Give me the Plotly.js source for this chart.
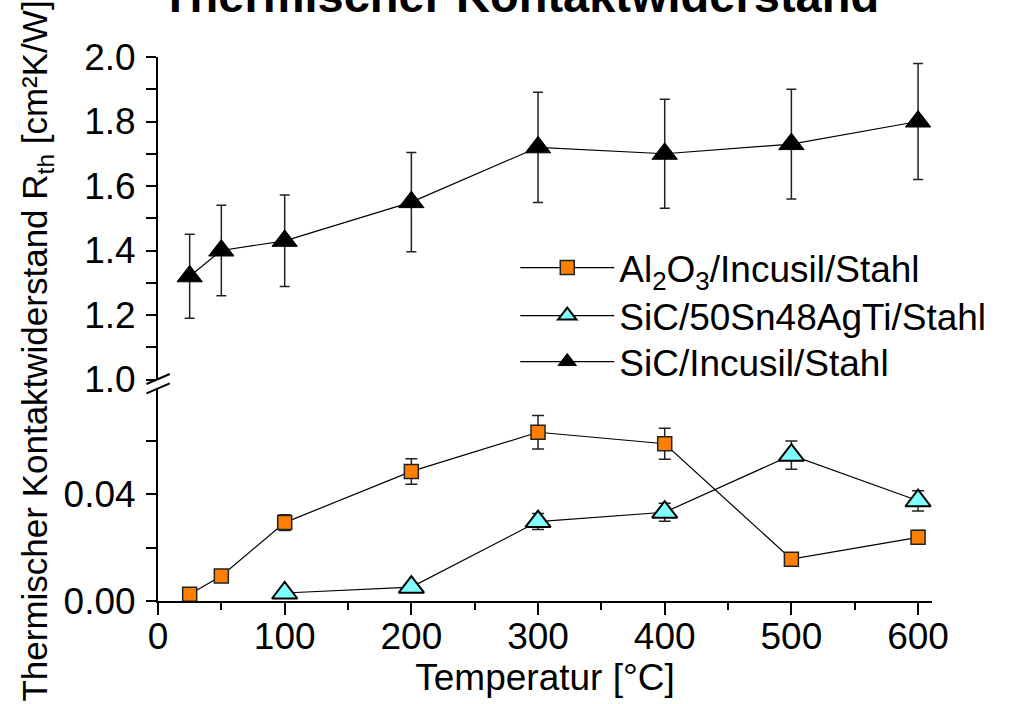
<!DOCTYPE html>
<html>
<head>
<meta charset="utf-8">
<script src="https://cdn.plot.ly/plotly-3.0.1.min.js"></script>
<style>html,body{margin:0;padding:0;background:#fff;}#chart{width:1009px;height:704px;}</style>
</head>
<body>
<div id="chart"></div>
<script>
// Data
var tempAl = [25, 50, 100, 200, 300, 400, 500, 600];
var valAl = [0.0025, 0.0094, 0.0294, 0.0486, 0.0633, 0.059, 0.0157, 0.0239];
var errAl = [0.001, 0.0012, 0.003, 0.0048, 0.0063, 0.0058, 0.0018, 0.0025];

var tempSn = [100, 200, 300, 400, 500, 600];
var valSn = [0.003, 0.0052, 0.0298, 0.0333, 0.0547, 0.0376];
var errSn = [0.0006, 0.0015, 0.003, 0.0034, 0.0053, 0.0038];

var tempInc = [25, 50, 100, 200, 300, 400, 500, 600];
var valInc = [1.32, 1.40, 1.43, 1.55, 1.72, 1.70, 1.73, 1.80];
var errInc = [0.13, 0.14, 0.142, 0.154, 0.171, 0.169, 0.17, 0.18];

var seriesNames = ['Al<sub>2</sub>O<sub>3</sub>/Incusil/Stahl', 'SiC/50Sn48AgTi/Stahl', 'SiC/Incusil/Stahl'];
var titleText = '<b>Thermischer Kontaktwiderstand</b>';
var xTitle = 'Temperatur [°C]';
var yTitle = 'Thermischer Kontaktwiderstand R<sub>th</sub> [cm²K/W]';

var FONT = '"Liberation Sans", Arial, sans-serif';

var traces = [
  {
    x: tempAl, y: valAl, name: seriesNames[0], type: 'scatter', mode: 'lines+markers',
    xaxis: 'x', yaxis: 'y2', cliponaxis: false, legend: 'legend',
    line: {color: '#000', width: 1.2},
    marker: {symbol: 'square', size: 14, color: '#FF8000', line: {color: '#222', width: 1.5}},
    error_y: {type: 'data', array: errAl, visible: true, color: '#222', thickness: 1.5, width: 6}
  },
  {
    x: tempSn, y: valSn, name: seriesNames[1], type: 'scatter', mode: 'lines+markers',
    xaxis: 'x', yaxis: 'y2', cliponaxis: false, legend: 'legend2',
    line: {color: '#000', width: 1.2},
    marker: {symbol: 'triangle-up', size: 22, color: '#80FFFF', line: {color: '#000', width: 2}},
    error_y: {type: 'data', array: errSn, visible: true, color: '#222', thickness: 1.5, width: 6}
  },
  {
    x: tempInc, y: valInc, name: seriesNames[2], type: 'scatter', mode: 'lines+markers',
    xaxis: 'x', yaxis: 'y', cliponaxis: false, legend: 'legend3',
    line: {color: '#000', width: 1.2},
    marker: {symbol: 'triangle-up', size: 22, color: '#000', line: {color: '#000', width: 1}},
    error_y: {type: 'data', array: errInc, visible: true, color: '#222', thickness: 1.5, width: 5}
  }
];

var W = 774.5, H = 544; // plot area in px
function px2x(p) { return (p - 157.5) / W; }
function px2y(p) { return (601 - p) / H; }

function legendAt(yc) {
  return {
    x: px2x(515), y: px2y(yc), xanchor: 'left', yanchor: 'middle',
    bgcolor: 'rgba(0,0,0,0)', borderwidth: 0,
    font: {family: FONT, size: 37, color: '#000'},
    itemwidth: 94
  };
}

var layout = {
  width: 1009, height: 704,
  margin: {l: 157.5, r: 77, t: 57, b: 103},
  paper_bgcolor: '#fff', plot_bgcolor: 'rgba(0,0,0,0)',
  font: {family: FONT, size: 37, color: '#000'},
  showlegend: true,
  title: {
    text: titleText, font: {family: FONT, size: 47, color: '#000'},
    x: 520 / 1009, xref: 'container', xanchor: 'center',
    y: 1 - 12 / 704, yref: 'container', yanchor: 'bottom'
  },
  xaxis: {
    anchor: 'y2', range: [0, 611], showgrid: false, zeroline: false,
    showline: true, linecolor: '#000', linewidth: 2,
    ticks: 'outside', ticklen: 12, tickwidth: 2, tickcolor: '#000',
    tick0: 0, dtick: 100, ticklabelstandoff: -10,
    minor: {ticks: 'outside', dtick: 50, ticklen: 7, tickwidth: 2, tickcolor: '#000', showgrid: false},
    tickfont: {family: FONT, size: 37, color: '#000'},
    title: {text: xTitle, font: {family: FONT, size: 37, color: '#000'}, standoff: 8}
  },
  yaxis: {
    domain: [px2y(379.5), 1], range: [1.0, 2.0], anchor: 'x',
    showgrid: false, zeroline: false,
    showline: true, linecolor: '#000', linewidth: 2,
    ticks: 'outside', ticklen: 10, tickwidth: 2, tickcolor: '#000',
    tick0: 1.0, dtick: 0.2, tickformat: '.1f', ticklabelstandoff: 3,
    minor: {ticks: 'outside', dtick: 0.1, ticklen: 10, tickwidth: 2, tickcolor: '#000', showgrid: false},
    tickfont: {family: FONT, size: 37, color: '#000'}
  },
  yaxis2: {
    domain: [0, px2y(388)], range: [0, 0.0799], anchor: 'x',
    showgrid: false, zeroline: false,
    showline: true, linecolor: '#000', linewidth: 2,
    ticks: 'outside', ticklen: 10, tickwidth: 2, tickcolor: '#000',
    tick0: 0, dtick: 0.04, tickformat: '.2f', ticklabelstandoff: 3,
    minor: {ticks: 'outside', dtick: 0.02, ticklen: 10, tickwidth: 2, tickcolor: '#000', showgrid: false},
    tickfont: {family: FONT, size: 37, color: '#000'}
  },
  legend: legendAt(268),
  legend2: legendAt(316),
  legend3: legendAt(362),
  annotations: [
    {
      text: yTitle, xref: 'paper', yref: 'paper',
      x: px2x(36), y: px2y(351), xanchor: 'center', yanchor: 'middle',
      textangle: -90, showarrow: false,
      font: {family: FONT, size: 35, color: '#000'}
    }
  ],
  shapes: [
    {type: 'line', xref: 'paper', yref: 'paper', x0: px2x(146), y0: px2y(384), x1: px2x(169.3), y1: px2y(374), line: {color: '#000', width: 2}},
    {type: 'line', xref: 'paper', yref: 'paper', x0: px2x(146), y0: px2y(393.3), x1: px2x(169.3), y1: px2y(383.3), line: {color: '#000', width: 2}}
  ]
};

Plotly.newPlot('chart', traces, layout, {displayModeBar: false, staticPlot: true});
</script>
</body>
</html>
